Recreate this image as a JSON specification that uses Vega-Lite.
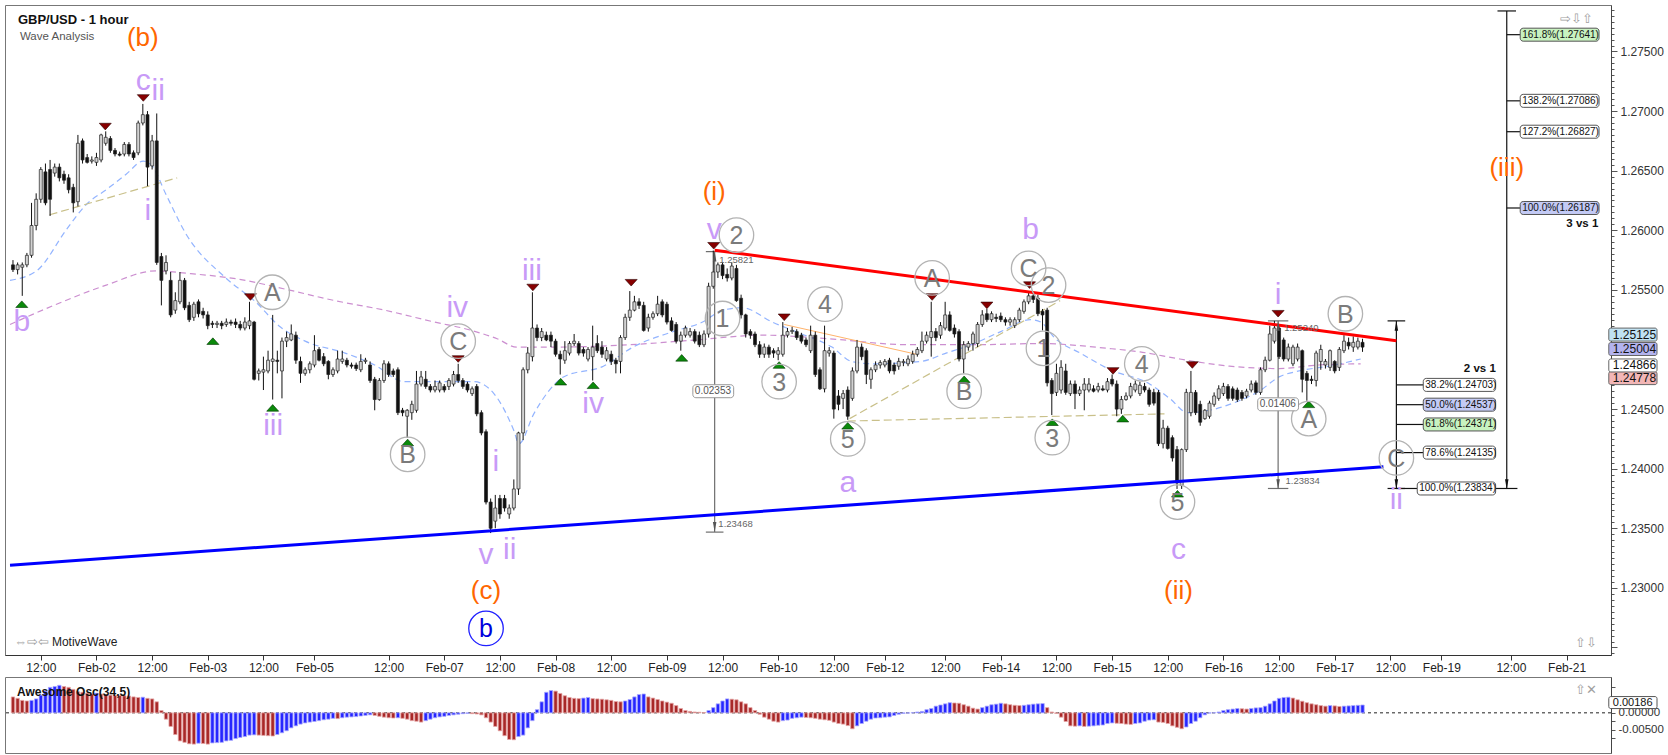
{
  "$schema": "https://vega.github.io/schema/vega-lite/v6.json",
  "background": "white",
  "padding": {"left": 3, "top": 3, "right": 2, "bottom": 3},
  "spacing": 2,
  "config": {
    "font": "Liberation Sans",
    "view": {"stroke": "#777", "strokeWidth": 1}
  },
  "datasets": {
    "candles": [
      {"i":0,"o":1.2571,"h":1.2575,"l":1.2565,"c":1.2567,"ao":0.00466},
      {"i":1,"o":1.2567,"h":1.2573,"l":1.2563,"c":1.2571,"ao":0.00424},
      {"i":2,"o":1.2569,"h":1.2573,"l":1.2545,"c":1.2571,"ao":0.00364},
      {"i":3,"o":1.2571,"h":1.2581,"l":1.2569,"c":1.2579,"ao":0.00347},
      {"i":4,"o":1.2579,"h":1.2623,"l":1.2577,"c":1.2604,"ao":0.00364},
      {"i":5,"o":1.2604,"h":1.2631,"l":1.2600,"c":1.2626,"ao":0.00407},
      {"i":6,"o":1.2626,"h":1.2653,"l":1.2623,"c":1.2651,"ao":0.00517},
      {"i":7,"o":1.2649,"h":1.2656,"l":1.2621,"c":1.2623,"ao":0.00635},
      {"i":8,"o":1.2651,"h":1.2659,"l":1.2612,"c":1.2626,"ao":0.00745},
      {"i":9,"o":1.2648,"h":1.2656,"l":1.2645,"c":1.2653,"ao":0.00771},
      {"i":10,"o":1.2653,"h":1.2656,"l":1.2641,"c":1.2644,"ao":0.00805},
      {"i":11,"o":1.2647,"h":1.2650,"l":1.2639,"c":1.2642,"ao":0.00771},
      {"i":12,"o":1.2644,"h":1.2647,"l":1.2631,"c":1.2634,"ao":0.00745},
      {"i":13,"o":1.2636,"h":1.2639,"l":1.2615,"c":1.2623,"ao":0.00686},
      {"i":14,"o":1.2624,"h":1.2680,"l":1.2620,"c":1.2673,"ao":0.00618},
      {"i":15,"o":1.2675,"h":1.2677,"l":1.2656,"c":1.2659,"ao":0.00601},
      {"i":16,"o":1.2661,"h":1.2664,"l":1.2656,"c":1.2657,"ao":0.00576},
      {"i":17,"o":1.2658,"h":1.2662,"l":1.2656,"c":1.2659,"ao":0.00551},
      {"i":18,"o":1.2657,"h":1.2665,"l":1.2654,"c":1.2661,"ao":0.00576},
      {"i":19,"o":1.2659,"h":1.2681,"l":1.2657,"c":1.2680,"ao":0.00551},
      {"i":20,"o":1.2673,"h":1.2683,"l":1.2671,"c":1.2678,"ao":0.00534},
      {"i":21,"o":1.2677,"h":1.2679,"l":1.2665,"c":1.2667,"ao":0.00517},
      {"i":22,"o":1.2667,"h":1.2669,"l":1.2662,"c":1.2664,"ao":0.00508},
      {"i":23,"o":1.2664,"h":1.2666,"l":1.2662,"c":1.2663,"ao":0.00505},
      {"i":24,"o":1.2664,"h":1.2674,"l":1.2662,"c":1.2672,"ao":0.00500},
      {"i":25,"o":1.2672,"h":1.2674,"l":1.2662,"c":1.2664,"ao":0.00491},
      {"i":26,"o":1.2665,"h":1.2667,"l":1.2659,"c":1.2661,"ao":0.00466},
      {"i":27,"o":1.2665,"h":1.2692,"l":1.2663,"c":1.2690,"ao":0.00449},
      {"i":28,"o":1.2690,"h":1.2706,"l":1.2688,"c":1.2697,"ao":0.00457},
      {"i":29,"o":1.2697,"h":1.2700,"l":1.2637,"c":1.2653,"ao":0.00424},
      {"i":30,"o":1.2654,"h":1.2680,"l":1.2651,"c":1.2675,"ao":0.00407},
      {"i":31,"o":1.2675,"h":1.2698,"l":1.2571,"c":1.2573,"ao":0.00322},
      {"i":32,"o":1.2578,"h":1.2581,"l":1.2537,"c":1.2558,"ao":0.00068},
      {"i":33,"o":1.2566,"h":1.2579,"l":1.2563,"c":1.2573,"ao":-0.00186},
      {"i":34,"o":1.2558,"h":1.2565,"l":1.2527,"c":1.2529,"ao":-0.00398},
      {"i":35,"o":1.2533,"h":1.2548,"l":1.2530,"c":1.2541,"ao":-0.00635},
      {"i":36,"o":1.2540,"h":1.2565,"l":1.2538,"c":1.2558,"ao":-0.00822},
      {"i":37,"o":1.2558,"h":1.2560,"l":1.2533,"c":1.2535,"ao":-0.00864},
      {"i":38,"o":1.2537,"h":1.2540,"l":1.2523,"c":1.2525,"ao":-0.00906},
      {"i":39,"o":1.2527,"h":1.2540,"l":1.2524,"c":1.2538,"ao":-0.00915},
      {"i":40,"o":1.2540,"h":1.2542,"l":1.2527,"c":1.2530,"ao":-0.00889},
      {"i":41,"o":1.2532,"h":1.2535,"l":1.2526,"c":1.2529,"ao":-0.00898},
      {"i":42,"o":1.2529,"h":1.2532,"l":1.2517,"c":1.2520,"ao":-0.00915},
      {"i":43,"o":1.2522,"h":1.2524,"l":1.2518,"c":1.2521,"ao":-0.00881},
      {"i":44,"o":1.2521,"h":1.2524,"l":1.2518,"c":1.2522,"ao":-0.00872},
      {"i":45,"o":1.2522,"h":1.2524,"l":1.2517,"c":1.2520,"ao":-0.00864},
      {"i":46,"o":1.2521,"h":1.2526,"l":1.2519,"c":1.2523,"ao":-0.00822},
      {"i":47,"o":1.2523,"h":1.2525,"l":1.2520,"c":1.2522,"ao":-0.00805},
      {"i":48,"o":1.2523,"h":1.2526,"l":1.2518,"c":1.2521,"ao":-0.00754},
      {"i":49,"o":1.2521,"h":1.2524,"l":1.2516,"c":1.2518,"ao":-0.00720},
      {"i":50,"o":1.2518,"h":1.2527,"l":1.2516,"c":1.2523,"ao":-0.00695},
      {"i":51,"o":1.2520,"h":1.2540,"l":1.2517,"c":1.2524,"ao":-0.00652},
      {"i":52,"o":1.2523,"h":1.2524,"l":1.2474,"c":1.2475,"ao":-0.00644},
      {"i":53,"o":1.2480,"h":1.2484,"l":1.2474,"c":1.2482,"ao":-0.00652},
      {"i":54,"o":1.2481,"h":1.2494,"l":1.2466,"c":1.2483,"ao":-0.00661},
      {"i":55,"o":1.2482,"h":1.2499,"l":1.2480,"c":1.2491,"ao":-0.00669},
      {"i":56,"o":1.2490,"h":1.2529,"l":1.2458,"c":1.2492,"ao":-0.00678},
      {"i":57,"o":1.2491,"h":1.2499,"l":1.2480,"c":1.2490,"ao":-0.00635},
      {"i":58,"o":1.2482,"h":1.2510,"l":1.2459,"c":1.2507,"ao":-0.00584},
      {"i":59,"o":1.2507,"h":1.2515,"l":1.2502,"c":1.2510,"ao":-0.00525},
      {"i":60,"o":1.2508,"h":1.2521,"l":1.2507,"c":1.2513,"ao":-0.00440},
      {"i":61,"o":1.2512,"h":1.2515,"l":1.2488,"c":1.2491,"ao":-0.00381},
      {"i":62,"o":1.2490,"h":1.2494,"l":1.2472,"c":1.2480,"ao":-0.00330},
      {"i":63,"o":1.2480,"h":1.2485,"l":1.2478,"c":1.2483,"ao":-0.00296},
      {"i":64,"o":1.2483,"h":1.2490,"l":1.2480,"c":1.2488,"ao":-0.00271},
      {"i":65,"o":1.2487,"h":1.2512,"l":1.2485,"c":1.2499,"ao":-0.00254},
      {"i":66,"o":1.2500,"h":1.2502,"l":1.2490,"c":1.2491,"ao":-0.00229},
      {"i":67,"o":1.2494,"h":1.2497,"l":1.2486,"c":1.2488,"ao":-0.00203},
      {"i":68,"o":1.2490,"h":1.2491,"l":1.2475,"c":1.2479,"ao":-0.00186},
      {"i":69,"o":1.2479,"h":1.2485,"l":1.2477,"c":1.2483,"ao":-0.00161},
      {"i":70,"o":1.2482,"h":1.2499,"l":1.2480,"c":1.2492,"ao":-0.00169},
      {"i":71,"o":1.2490,"h":1.2499,"l":1.2488,"c":1.2492,"ao":-0.00144},
      {"i":72,"o":1.2491,"h":1.2493,"l":1.2485,"c":1.2487,"ao":-0.00127},
      {"i":73,"o":1.2487,"h":1.2489,"l":1.2484,"c":1.2486,"ao":-0.00119},
      {"i":74,"o":1.2487,"h":1.2489,"l":1.2482,"c":1.2484,"ao":-0.00110},
      {"i":75,"o":1.2483,"h":1.2496,"l":1.2481,"c":1.2490,"ao":-0.00093},
      {"i":76,"o":1.2490,"h":1.2493,"l":1.2488,"c":1.2491,"ao":-0.00076},
      {"i":77,"o":1.2487,"h":1.2490,"l":1.2472,"c":1.2474,"ao":-0.00059},
      {"i":78,"o":1.2475,"h":1.2477,"l":1.2449,"c":1.2458,"ao":-0.00076},
      {"i":79,"o":1.2458,"h":1.2476,"l":1.2457,"c":1.2474,"ao":-0.00102},
      {"i":80,"o":1.2474,"h":1.2491,"l":1.2472,"c":1.2488,"ao":-0.00127},
      {"i":81,"o":1.2488,"h":1.2490,"l":1.2477,"c":1.2479,"ao":-0.00144},
      {"i":82,"o":1.2482,"h":1.2484,"l":1.2477,"c":1.2479,"ao":-0.00152},
      {"i":83,"o":1.2483,"h":1.2485,"l":1.2445,"c":1.2447,"ao":-0.00144},
      {"i":84,"o":1.2449,"h":1.2451,"l":1.2444,"c":1.2447,"ao":-0.00161},
      {"i":85,"o":1.2444,"h":1.2450,"l":1.2426,"c":1.2449,"ao":-0.00186},
      {"i":86,"o":1.2447,"h":1.2457,"l":1.2441,"c":1.2454,"ao":-0.00229},
      {"i":87,"o":1.2449,"h":1.2482,"l":1.2447,"c":1.2471,"ao":-0.00246},
      {"i":88,"o":1.2471,"h":1.2482,"l":1.2469,"c":1.2477,"ao":-0.00271},
      {"i":89,"o":1.2475,"h":1.2482,"l":1.2467,"c":1.2469,"ao":-0.00229},
      {"i":90,"o":1.2469,"h":1.2471,"l":1.2464,"c":1.2466,"ao":-0.00186},
      {"i":91,"o":1.2466,"h":1.2474,"l":1.2464,"c":1.2469,"ao":-0.00144},
      {"i":92,"o":1.2466,"h":1.2474,"l":1.2464,"c":1.2472,"ao":-0.00119},
      {"i":93,"o":1.2469,"h":1.2471,"l":1.2464,"c":1.2466,"ao":-0.00102},
      {"i":94,"o":1.2469,"h":1.2476,"l":1.2466,"c":1.2474,"ao":-0.00076},
      {"i":95,"o":1.2471,"h":1.2482,"l":1.2469,"c":1.2479,"ao":-0.00059},
      {"i":96,"o":1.2479,"h":1.2488,"l":1.2472,"c":1.2474,"ao":-0.00042},
      {"i":97,"o":1.2474,"h":1.2476,"l":1.2467,"c":1.2469,"ao":-0.00025},
      {"i":98,"o":1.2471,"h":1.2473,"l":1.2464,"c":1.2466,"ao":-0.00017},
      {"i":99,"o":1.2463,"h":1.2469,"l":1.2461,"c":1.2467,"ao":-0.00025},
      {"i":100,"o":1.2469,"h":1.2471,"l":1.2444,"c":1.2446,"ao":-0.00034},
      {"i":101,"o":1.2447,"h":1.2449,"l":1.2428,"c":1.2430,"ao":-0.00059},
      {"i":102,"o":1.2431,"h":1.2433,"l":1.2370,"c":1.2372,"ao":-0.00144},
      {"i":103,"o":1.2372,"h":1.2375,"l":1.2346,"c":1.2350,"ao":-0.00271},
      {"i":104,"o":1.2356,"h":1.2378,"l":1.2350,"c":1.2367,"ao":-0.00398},
      {"i":105,"o":1.2375,"h":1.2378,"l":1.2358,"c":1.2362,"ao":-0.00525},
      {"i":106,"o":1.2375,"h":1.2378,"l":1.2364,"c":1.2367,"ao":-0.00669},
      {"i":107,"o":1.2362,"h":1.2370,"l":1.2358,"c":1.2367,"ao":-0.00779},
      {"i":108,"o":1.2367,"h":1.2391,"l":1.2365,"c":1.2383,"ao":-0.00788},
      {"i":109,"o":1.2383,"h":1.2431,"l":1.2378,"c":1.2430,"ao":-0.00695},
      {"i":110,"o":1.2430,"h":1.2485,"l":1.2424,"c":1.2483,"ao":-0.00652},
      {"i":111,"o":1.2483,"h":1.2502,"l":1.2480,"c":1.2497,"ao":-0.00440},
      {"i":112,"o":1.2494,"h":1.2548,"l":1.2490,"c":1.2518,"ao":-0.00229},
      {"i":113,"o":1.2518,"h":1.2521,"l":1.2507,"c":1.2510,"ao":0.00093},
      {"i":114,"o":1.2510,"h":1.2518,"l":1.2507,"c":1.2515,"ao":0.00322},
      {"i":115,"o":1.2512,"h":1.2515,"l":1.2507,"c":1.2508,"ao":0.00601},
      {"i":116,"o":1.2512,"h":1.2515,"l":1.2502,"c":1.2507,"ao":0.00652},
      {"i":117,"o":1.2507,"h":1.2509,"l":1.2494,"c":1.2496,"ao":0.00635},
      {"i":118,"o":1.2496,"h":1.2499,"l":1.2479,"c":1.2492,"ao":0.00567},
      {"i":119,"o":1.2491,"h":1.2507,"l":1.2488,"c":1.2499,"ao":0.00500},
      {"i":120,"o":1.2497,"h":1.2507,"l":1.2495,"c":1.2505,"ao":0.00449},
      {"i":121,"o":1.2505,"h":1.2513,"l":1.2503,"c":1.2507,"ao":0.00424},
      {"i":122,"o":1.2505,"h":1.2507,"l":1.2495,"c":1.2497,"ao":0.00415},
      {"i":123,"o":1.2500,"h":1.2502,"l":1.2494,"c":1.2497,"ao":0.00432},
      {"i":124,"o":1.2492,"h":1.2502,"l":1.2490,"c":1.2500,"ao":0.00449},
      {"i":125,"o":1.2494,"h":1.2520,"l":1.2474,"c":1.2502,"ao":0.00415},
      {"i":126,"o":1.2505,"h":1.2512,"l":1.2497,"c":1.2499,"ao":0.00407},
      {"i":127,"o":1.2502,"h":1.2507,"l":1.2493,"c":1.2496,"ao":0.00398},
      {"i":128,"o":1.2492,"h":1.2502,"l":1.2490,"c":1.2499,"ao":0.00381},
      {"i":129,"o":1.2496,"h":1.2499,"l":1.2487,"c":1.2490,"ao":0.00364},
      {"i":130,"o":1.2491,"h":1.2493,"l":1.2480,"c":1.2488,"ao":0.00330},
      {"i":131,"o":1.2490,"h":1.2512,"l":1.2480,"c":1.2510,"ao":0.00322},
      {"i":132,"o":1.2510,"h":1.2530,"l":1.2508,"c":1.2527,"ao":0.00347},
      {"i":133,"o":1.2527,"h":1.2549,"l":1.2524,"c":1.2533,"ao":0.00390},
      {"i":134,"o":1.2533,"h":1.2545,"l":1.2532,"c":1.2540,"ao":0.00466},
      {"i":135,"o":1.2540,"h":1.2543,"l":1.2534,"c":1.2537,"ao":0.00534},
      {"i":136,"o":1.2537,"h":1.2540,"l":1.2515,"c":1.2516,"ao":0.00551},
      {"i":137,"o":1.2518,"h":1.2530,"l":1.2515,"c":1.2527,"ao":0.00466},
      {"i":138,"o":1.2527,"h":1.2532,"l":1.2525,"c":1.2530,"ao":0.00432},
      {"i":139,"o":1.2530,"h":1.2545,"l":1.2528,"c":1.2538,"ao":0.00390},
      {"i":140,"o":1.2540,"h":1.2542,"l":1.2527,"c":1.2529,"ao":0.00347},
      {"i":141,"o":1.2538,"h":1.2540,"l":1.2521,"c":1.2523,"ao":0.00313},
      {"i":142,"o":1.2524,"h":1.2527,"l":1.2515,"c":1.2516,"ao":0.00280},
      {"i":143,"o":1.2521,"h":1.2523,"l":1.2505,"c":1.2507,"ao":0.00212},
      {"i":144,"o":1.2507,"h":1.2515,"l":1.2499,"c":1.2512,"ao":0.00127},
      {"i":145,"o":1.2512,"h":1.2520,"l":1.2510,"c":1.2518,"ao":0.00068},
      {"i":146,"o":1.2512,"h":1.2518,"l":1.2510,"c":1.2515,"ao":0.00042},
      {"i":147,"o":1.2515,"h":1.2517,"l":1.2505,"c":1.2507,"ao":0.00025},
      {"i":148,"o":1.2512,"h":1.2515,"l":1.2502,"c":1.2504,"ao":0.00017},
      {"i":149,"o":1.2504,"h":1.2516,"l":1.2502,"c":1.2513,"ao":0.00008},
      {"i":150,"o":1.2513,"h":1.2556,"l":1.2510,"c":1.2553,"ao":0.00068},
      {"i":151,"o":1.2553,"h":1.2583,"l":1.2551,"c":1.2565,"ao":0.00152},
      {"i":152,"o":1.2565,"h":1.2573,"l":1.2560,"c":1.2571,"ao":0.00263},
      {"i":153,"o":1.2571,"h":1.2573,"l":1.2559,"c":1.2562,"ao":0.00347},
      {"i":154,"o":1.2563,"h":1.2568,"l":1.2557,"c":1.2560,"ao":0.00407},
      {"i":155,"o":1.2560,"h":1.2573,"l":1.2558,"c":1.2570,"ao":0.00398},
      {"i":156,"o":1.2568,"h":1.2571,"l":1.2540,"c":1.2541,"ao":0.00381},
      {"i":157,"o":1.2543,"h":1.2546,"l":1.2526,"c":1.2529,"ao":0.00322},
      {"i":158,"o":1.2529,"h":1.2530,"l":1.2510,"c":1.2513,"ao":0.00263},
      {"i":159,"o":1.2515,"h":1.2517,"l":1.2509,"c":1.2512,"ao":0.00152},
      {"i":160,"o":1.2513,"h":1.2515,"l":1.2502,"c":1.2504,"ao":0.00068},
      {"i":161,"o":1.2504,"h":1.2507,"l":1.2493,"c":1.2496,"ao":-0.00042},
      {"i":162,"o":1.2496,"h":1.2505,"l":1.2493,"c":1.2502,"ao":-0.00127},
      {"i":163,"o":1.2502,"h":1.2504,"l":1.2493,"c":1.2496,"ao":-0.00186},
      {"i":164,"o":1.2499,"h":1.2501,"l":1.2493,"c":1.2497,"ao":-0.00246},
      {"i":165,"o":1.2496,"h":1.2502,"l":1.2491,"c":1.2499,"ao":-0.00271},
      {"i":166,"o":1.2496,"h":1.2523,"l":1.2494,"c":1.2512,"ao":-0.00229},
      {"i":167,"o":1.2512,"h":1.2518,"l":1.2510,"c":1.2515,"ao":-0.00212},
      {"i":168,"o":1.2515,"h":1.2519,"l":1.2513,"c":1.2516,"ao":-0.00161},
      {"i":169,"o":1.2515,"h":1.2517,"l":1.2508,"c":1.2510,"ao":-0.00144},
      {"i":170,"o":1.2512,"h":1.2514,"l":1.2505,"c":1.2507,"ao":-0.00127},
      {"i":171,"o":1.2508,"h":1.2510,"l":1.2502,"c":1.2504,"ao":-0.00136},
      {"i":172,"o":1.2499,"h":1.2520,"l":1.2497,"c":1.2512,"ao":-0.00144},
      {"i":173,"o":1.2512,"h":1.2515,"l":1.2477,"c":1.2479,"ao":-0.00161},
      {"i":174,"o":1.2483,"h":1.2485,"l":1.2466,"c":1.2467,"ao":-0.00186},
      {"i":175,"o":1.2467,"h":1.2520,"l":1.2464,"c":1.2499,"ao":-0.00203},
      {"i":176,"o":1.2497,"h":1.2502,"l":1.2494,"c":1.2499,"ao":-0.00220},
      {"i":177,"o":1.2497,"h":1.2499,"l":1.2442,"c":1.2450,"ao":-0.00271},
      {"i":178,"o":1.2461,"h":1.2466,"l":1.2449,"c":1.2454,"ao":-0.00313},
      {"i":179,"o":1.2459,"h":1.2466,"l":1.2450,"c":1.2463,"ao":-0.00330},
      {"i":180,"o":1.2466,"h":1.2469,"l":1.2441,"c":1.2444,"ao":-0.00373},
      {"i":181,"o":1.2459,"h":1.2485,"l":1.2457,"c":1.2482,"ao":-0.00466},
      {"i":182,"o":1.2482,"h":1.2508,"l":1.2480,"c":1.2502,"ao":-0.00381},
      {"i":183,"o":1.2502,"h":1.2505,"l":1.2491,"c":1.2494,"ao":-0.00313},
      {"i":184,"o":1.2499,"h":1.2501,"l":1.2471,"c":1.2479,"ao":-0.00246},
      {"i":185,"o":1.2475,"h":1.2485,"l":1.2467,"c":1.2483,"ao":-0.00186},
      {"i":186,"o":1.2483,"h":1.2490,"l":1.2481,"c":1.2487,"ao":-0.00152},
      {"i":187,"o":1.2487,"h":1.2491,"l":1.2484,"c":1.2489,"ao":-0.00144},
      {"i":188,"o":1.2487,"h":1.2492,"l":1.2485,"c":1.2490,"ao":-0.00127},
      {"i":189,"o":1.2491,"h":1.2493,"l":1.2480,"c":1.2482,"ao":-0.00119},
      {"i":190,"o":1.2487,"h":1.2489,"l":1.2479,"c":1.2482,"ao":-0.00076},
      {"i":191,"o":1.2486,"h":1.2493,"l":1.2483,"c":1.2490,"ao":-0.00042},
      {"i":192,"o":1.2489,"h":1.2492,"l":1.2486,"c":1.2490,"ao":-0.00017},
      {"i":193,"o":1.2488,"h":1.2495,"l":1.2486,"c":1.2492,"ao":-0.00008},
      {"i":194,"o":1.2490,"h":1.2499,"l":1.2488,"c":1.2496,"ao":0.00003},
      {"i":195,"o":1.2496,"h":1.2502,"l":1.2494,"c":1.2500,"ao":0.00025},
      {"i":196,"o":1.2499,"h":1.2515,"l":1.2497,"c":1.2507,"ao":0.00042},
      {"i":197,"o":1.2507,"h":1.2515,"l":1.2505,"c":1.2512,"ao":0.00093},
      {"i":198,"o":1.2510,"h":1.2540,"l":1.2494,"c":1.2515,"ao":0.00127},
      {"i":199,"o":1.2515,"h":1.2518,"l":1.2507,"c":1.2510,"ao":0.00195},
      {"i":200,"o":1.2512,"h":1.2523,"l":1.2509,"c":1.2520,"ao":0.00229},
      {"i":201,"o":1.2518,"h":1.2540,"l":1.2516,"c":1.2529,"ao":0.00263},
      {"i":202,"o":1.2529,"h":1.2532,"l":1.2515,"c":1.2516,"ao":0.00296},
      {"i":203,"o":1.2518,"h":1.2521,"l":1.2510,"c":1.2513,"ao":0.00288},
      {"i":204,"o":1.2515,"h":1.2517,"l":1.2490,"c":1.2492,"ao":0.00280},
      {"i":205,"o":1.2492,"h":1.2507,"l":1.2480,"c":1.2504,"ao":0.00237},
      {"i":206,"o":1.2502,"h":1.2507,"l":1.2499,"c":1.2505,"ao":0.00195},
      {"i":207,"o":1.2505,"h":1.2515,"l":1.2499,"c":1.2513,"ao":0.00136},
      {"i":208,"o":1.2505,"h":1.2523,"l":1.2502,"c":1.2521,"ao":0.00110},
      {"i":209,"o":1.2521,"h":1.2533,"l":1.2519,"c":1.2529,"ao":0.00152},
      {"i":210,"o":1.2530,"h":1.2534,"l":1.2523,"c":1.2525,"ao":0.00195},
      {"i":211,"o":1.2525,"h":1.2532,"l":1.2523,"c":1.2530,"ao":0.00237},
      {"i":212,"o":1.2527,"h":1.2530,"l":1.2523,"c":1.2526,"ao":0.00254},
      {"i":213,"o":1.2528,"h":1.2531,"l":1.2523,"c":1.2525,"ao":0.00280},
      {"i":214,"o":1.2525,"h":1.2527,"l":1.2520,"c":1.2523,"ao":0.00263},
      {"i":215,"o":1.2523,"h":1.2527,"l":1.2520,"c":1.2525,"ao":0.00237},
      {"i":216,"o":1.2520,"h":1.2527,"l":1.2518,"c":1.2525,"ao":0.00220},
      {"i":217,"o":1.2525,"h":1.2535,"l":1.2523,"c":1.2533,"ao":0.00212},
      {"i":218,"o":1.2532,"h":1.2542,"l":1.2530,"c":1.2540,"ao":0.00220},
      {"i":219,"o":1.2540,"h":1.2548,"l":1.2538,"c":1.2545,"ao":0.00237},
      {"i":220,"o":1.2545,"h":1.2548,"l":1.2539,"c":1.2542,"ao":0.00254},
      {"i":221,"o":1.2543,"h":1.2546,"l":1.2528,"c":1.2530,"ao":0.00263},
      {"i":222,"o":1.2532,"h":1.2534,"l":1.2516,"c":1.2529,"ao":0.00271},
      {"i":223,"o":1.2533,"h":1.2535,"l":1.2469,"c":1.2472,"ao":0.00152},
      {"i":224,"o":1.2474,"h":1.2476,"l":1.2445,"c":1.2463,"ao":0.00025},
      {"i":225,"o":1.2464,"h":1.2488,"l":1.2461,"c":1.2480,"ao":-0.00017},
      {"i":226,"o":1.2466,"h":1.2491,"l":1.2463,"c":1.2485,"ao":-0.00127},
      {"i":227,"o":1.2482,"h":1.2488,"l":1.2462,"c":1.2464,"ao":-0.00254},
      {"i":228,"o":1.2463,"h":1.2474,"l":1.2461,"c":1.2471,"ao":-0.00381},
      {"i":229,"o":1.2471,"h":1.2474,"l":1.2450,"c":1.2463,"ao":-0.00390},
      {"i":230,"o":1.2463,"h":1.2469,"l":1.2461,"c":1.2466,"ao":-0.00381},
      {"i":231,"o":1.2466,"h":1.2476,"l":1.2449,"c":1.2471,"ao":-0.00398},
      {"i":232,"o":1.2466,"h":1.2476,"l":1.2464,"c":1.2471,"ao":-0.00390},
      {"i":233,"o":1.2467,"h":1.2470,"l":1.2464,"c":1.2465,"ao":-0.00381},
      {"i":234,"o":1.2466,"h":1.2472,"l":1.2464,"c":1.2469,"ao":-0.00364},
      {"i":235,"o":1.2467,"h":1.2470,"l":1.2465,"c":1.2466,"ao":-0.00356},
      {"i":236,"o":1.2466,"h":1.2476,"l":1.2464,"c":1.2473,"ao":-0.00313},
      {"i":237,"o":1.2475,"h":1.2479,"l":1.2469,"c":1.2471,"ao":-0.00296},
      {"i":238,"o":1.2471,"h":1.2474,"l":1.2444,"c":1.2450,"ao":-0.00305},
      {"i":239,"o":1.2450,"h":1.2461,"l":1.2446,"c":1.2458,"ao":-0.00313},
      {"i":240,"o":1.2458,"h":1.2464,"l":1.2457,"c":1.2461,"ao":-0.00330},
      {"i":241,"o":1.2461,"h":1.2472,"l":1.2459,"c":1.2469,"ao":-0.00339},
      {"i":242,"o":1.2466,"h":1.2474,"l":1.2464,"c":1.2471,"ao":-0.00313},
      {"i":243,"o":1.2463,"h":1.2473,"l":1.2461,"c":1.2470,"ao":-0.00296},
      {"i":244,"o":1.2469,"h":1.2472,"l":1.2464,"c":1.2466,"ao":-0.00246},
      {"i":245,"o":1.2466,"h":1.2468,"l":1.2452,"c":1.2454,"ao":-0.00212},
      {"i":246,"o":1.2464,"h":1.2467,"l":1.2453,"c":1.2455,"ao":-0.00203},
      {"i":247,"o":1.2464,"h":1.2466,"l":1.2419,"c":1.2421,"ao":-0.00271},
      {"i":248,"o":1.2421,"h":1.2441,"l":1.2417,"c":1.2434,"ao":-0.00280},
      {"i":249,"o":1.2434,"h":1.2436,"l":1.2416,"c":1.2417,"ao":-0.00313},
      {"i":250,"o":1.2426,"h":1.2428,"l":1.2406,"c":1.2409,"ao":-0.00381},
      {"i":251,"o":1.2416,"h":1.2419,"l":1.2383,"c":1.2388,"ao":-0.00424},
      {"i":252,"o":1.2386,"h":1.2417,"l":1.2383,"c":1.2416,"ao":-0.00466},
      {"i":253,"o":1.2416,"h":1.2467,"l":1.2414,"c":1.2464,"ao":-0.00415},
      {"i":254,"o":1.2447,"h":1.2482,"l":1.2444,"c":1.2464,"ao":-0.00313},
      {"i":255,"o":1.2464,"h":1.2466,"l":1.2445,"c":1.2447,"ao":-0.00246},
      {"i":256,"o":1.2454,"h":1.2457,"l":1.2436,"c":1.2439,"ao":-0.00144},
      {"i":257,"o":1.2442,"h":1.2450,"l":1.2441,"c":1.2449,"ao":-0.00059},
      {"i":258,"o":1.2444,"h":1.2457,"l":1.2442,"c":1.2455,"ao":-0.00008},
      {"i":259,"o":1.2454,"h":1.2464,"l":1.2452,"c":1.2461,"ao":0.00003},
      {"i":260,"o":1.2459,"h":1.2470,"l":1.2457,"c":1.2467,"ao":0.00025},
      {"i":261,"o":1.2463,"h":1.2472,"l":1.2461,"c":1.2469,"ao":0.00068},
      {"i":262,"o":1.2469,"h":1.2471,"l":1.2457,"c":1.2459,"ao":0.00093},
      {"i":263,"o":1.2467,"h":1.2469,"l":1.2457,"c":1.2459,"ao":0.00110},
      {"i":264,"o":1.2466,"h":1.2468,"l":1.2456,"c":1.2458,"ao":0.00127},
      {"i":265,"o":1.2464,"h":1.2466,"l":1.2457,"c":1.2459,"ao":0.00119},
      {"i":266,"o":1.2461,"h":1.2467,"l":1.2459,"c":1.2465,"ao":0.00110},
      {"i":267,"o":1.2466,"h":1.2474,"l":1.2464,"c":1.2471,"ao":0.00127},
      {"i":268,"o":1.2472,"h":1.2474,"l":1.2462,"c":1.2464,"ao":0.00144},
      {"i":269,"o":1.2464,"h":1.2485,"l":1.2462,"c":1.2483,"ao":0.00152},
      {"i":270,"o":1.2483,"h":1.2494,"l":1.2481,"c":1.2491,"ao":0.00195},
      {"i":271,"o":1.2491,"h":1.2520,"l":1.2490,"c":1.2513,"ao":0.00263},
      {"i":272,"o":1.2507,"h":1.2524,"l":1.2505,"c":1.2518,"ao":0.00347},
      {"i":273,"o":1.2518,"h":1.2521,"l":1.2492,"c":1.2494,"ao":0.00424},
      {"i":274,"o":1.2508,"h":1.2510,"l":1.2490,"c":1.2492,"ao":0.00449},
      {"i":275,"o":1.2492,"h":1.2505,"l":1.2490,"c":1.2502,"ao":0.00457},
      {"i":276,"o":1.2488,"h":1.2504,"l":1.2486,"c":1.2502,"ao":0.00432},
      {"i":277,"o":1.2492,"h":1.2505,"l":1.2490,"c":1.2502,"ao":0.00381},
      {"i":278,"o":1.2499,"h":1.2500,"l":1.2464,"c":1.2475,"ao":0.00339},
      {"i":279,"o":1.2480,"h":1.2482,"l":1.2457,"c":1.2474,"ao":0.00296},
      {"i":280,"o":1.2475,"h":1.2478,"l":1.2471,"c":1.2474,"ao":0.00263},
      {"i":281,"o":1.2474,"h":1.2499,"l":1.2469,"c":1.2497,"ao":0.00237},
      {"i":282,"o":1.2490,"h":1.2504,"l":1.2483,"c":1.2500,"ao":0.00212},
      {"i":283,"o":1.2487,"h":1.2492,"l":1.2484,"c":1.2490,"ao":0.00195},
      {"i":284,"o":1.2485,"h":1.2500,"l":1.2482,"c":1.2499,"ao":0.00212},
      {"i":285,"o":1.2490,"h":1.2491,"l":1.2480,"c":1.2482,"ao":0.00203},
      {"i":286,"o":1.2485,"h":1.2502,"l":1.2482,"c":1.2500,"ao":0.00186},
      {"i":287,"o":1.2499,"h":1.2512,"l":1.2497,"c":1.2507,"ao":0.00195},
      {"i":288,"o":1.2506,"h":1.2510,"l":1.2500,"c":1.2503,"ao":0.00203},
      {"i":289,"o":1.2502,"h":1.2511,"l":1.2498,"c":1.2506,"ao":0.00212},
      {"i":290,"o":1.2502,"h":1.2510,"l":1.2500,"c":1.2507,"ao":0.00220},
      {"i":291,"o":1.2506,"h":1.2509,"l":1.2498,"c":1.2502,"ao":0.00229}
    ],
    "lines": [
      {"s":"red","i":151.3,"p":1.25833},{"s":"red","i":298.3,"p":1.25073},
      {"s":"blue","i":-0.64,"p":1.2319},{"s":"blue","i":295.5,"p":1.24016},
      {"s":"k1","i":7.9,"p":1.2613},{"s":"k1","i":35.4,"p":1.2644},
      {"s":"k2","i":180.4,"p":1.2442},{"s":"k2","i":225.8,"p":1.2541},
      {"s":"k3","i":180.0,"p":1.2440},{"s":"k3","i":248.3,"p":1.2446},
      {"s":"orange","i":166.3,"p":1.2521},{"s":"orange","i":194.8,"p":1.2496},
      {"s":"pink","i":-0.64,"p":1.2521},{"s":"pink","i":9.4,"p":1.2538},{"s":"pink","i":20.1,"p":1.2554},
      {"s":"pink","i":30.9,"p":1.2566},{"s":"pink","i":37.3,"p":1.2564},{"s":"pink","i":48.6,"p":1.2559},
      {"s":"pink","i":59.4,"p":1.2550},{"s":"pink","i":69.4,"p":1.2541},{"s":"pink","i":80.1,"p":1.2533},
      {"s":"pink","i":90.9,"p":1.2523},{"s":"pink","i":97.9,"p":1.2517},{"s":"pink","i":104.4,"p":1.2509},
      {"s":"pink","i":108.6,"p":1.2502},{"s":"pink","i":115.9,"p":1.2502},{"s":"pink","i":133.1,"p":1.2504},
      {"s":"pink","i":147.2,"p":1.2508},{"s":"pink","i":161.6,"p":1.2512},{"s":"pink","i":175.9,"p":1.2509},
      {"s":"pink","i":193.1,"p":1.2504},{"s":"pink","i":207.2,"p":1.2504},{"s":"pink","i":221.6,"p":1.2505},
      {"s":"pink","i":235.9,"p":1.2501},{"s":"pink","i":243.0,"p":1.2498},{"s":"pink","i":251.6,"p":1.2492},
      {"s":"pink","i":262.3,"p":1.2486},{"s":"pink","i":273.0,"p":1.2484},{"s":"pink","i":281.5,"p":1.2487},
      {"s":"pink","i":290.6,"p":1.2488},
      {"s":"lblue","i":-0.64,"p":1.2558},{"s":"lblue","i":5.1,"p":1.2566},{"s":"lblue","i":11.6,"p":1.2601},
      {"s":"lblue","i":15.9,"p":1.2622},{"s":"lblue","i":20.1,"p":1.2634},{"s":"lblue","i":24.4,"p":1.2647},
      {"s":"lblue","i":28.1,"p":1.2658},{"s":"lblue","i":29.8,"p":1.2655},{"s":"lblue","i":33.0,"p":1.2630},
      {"s":"lblue","i":37.3,"p":1.2597},{"s":"lblue","i":45.9,"p":1.2560},{"s":"lblue","i":52.3,"p":1.2540},
      {"s":"lblue","i":57.6,"p":1.2519},{"s":"lblue","i":63.0,"p":1.2507},{"s":"lblue","i":71.6,"p":1.2497},
      {"s":"lblue","i":78.0,"p":1.2487},{"s":"lblue","i":84.4,"p":1.2473},{"s":"lblue","i":90.9,"p":1.2473},
      {"s":"lblue","i":99.4,"p":1.2473},{"s":"lblue","i":103.7,"p":1.2463},{"s":"lblue","i":108.0,"p":1.2432},
      {"s":"lblue","i":109.1,"p":1.2421},{"s":"lblue","i":112.3,"p":1.2446},{"s":"lblue","i":115.5,"p":1.2465},
      {"s":"lblue","i":118.7,"p":1.2477},{"s":"lblue","i":127.3,"p":1.2486},{"s":"lblue","i":133.7,"p":1.2502},
      {"s":"lblue","i":142.3,"p":1.2515},{"s":"lblue","i":148.7,"p":1.2523},{"s":"lblue","i":153.0,"p":1.2533},
      {"s":"lblue","i":157.3,"p":1.2535},{"s":"lblue","i":163.7,"p":1.2523},{"s":"lblue","i":170.1,"p":1.2513},
      {"s":"lblue","i":176.6,"p":1.2502},{"s":"lblue","i":180.8,"p":1.2490},{"s":"lblue","i":185.1,"p":1.2488},
      {"s":"lblue","i":195.8,"p":1.2490},{"s":"lblue","i":201.2,"p":1.2497},{"s":"lblue","i":206.6,"p":1.2504},
      {"s":"lblue","i":213.0,"p":1.2515},{"s":"lblue","i":219.4,"p":1.2525},{"s":"lblue","i":221.6,"p":1.2523},
      {"s":"lblue","i":224.8,"p":1.2509},{"s":"lblue","i":230.1,"p":1.2497},{"s":"lblue","i":236.6,"p":1.2483},
      {"s":"lblue","i":245.1,"p":1.2471},{"s":"lblue","i":249.4,"p":1.2459},{"s":"lblue","i":253.3,"p":1.2447},
      {"s":"lblue","i":258.0,"p":1.2449},{"s":"lblue","i":264.4,"p":1.2457},{"s":"lblue","i":268.7,"p":1.2465},
      {"s":"lblue","i":273.0,"p":1.2477},{"s":"lblue","i":277.3,"p":1.2482},{"s":"lblue","i":283.7,"p":1.2486},
      {"s":"lblue","i":290.6,"p":1.2492}
    ],
    "rules": [
      {"g":"meas","i":151.3,"i2":151.3,"p":1.23468,"p2":1.25821},
      {"g":"meas","i":149.4,"i2":153.2,"p":1.25821,"p2":1.25821},
      {"g":"meas","i":149.4,"i2":153.2,"p":1.23468,"p2":1.23468},
      {"g":"meas","i":272.8,"i2":272.8,"p":1.23834,"p2":1.2524},
      {"g":"meas","i":270.6,"i2":275.0,"p":1.2524,"p2":1.2524},
      {"g":"meas","i":270.6,"i2":275.0,"p":1.23834,"p2":1.23834},
      {"g":"fib","i":322.1,"i2":322.1,"p":1.23834,"p2":1.2784},
      {"g":"fib","i":320.1,"i2":324.1,"p":1.2784,"p2":1.2784},
      {"g":"fib","i":322.1,"i2":325.0,"p":1.27641,"p2":1.27641},
      {"g":"fib","i":322.1,"i2":325.0,"p":1.27086,"p2":1.27086},
      {"g":"fib","i":322.1,"i2":325.0,"p":1.26827,"p2":1.26827},
      {"g":"fib","i":322.1,"i2":325.0,"p":1.26187,"p2":1.26187},
      {"g":"fib","i":319.7,"i2":324.4,"p":1.23834,"p2":1.23834},
      {"g":"fib","i":298.3,"i2":298.3,"p":1.23834,"p2":1.2524},
      {"g":"fib","i":296.4,"i2":300.2,"p":1.2524,"p2":1.2524},
      {"g":"fib","i":296.4,"i2":300.2,"p":1.23834,"p2":1.23834},
      {"g":"fib","i":298.3,"i2":304.1,"p":1.24703,"p2":1.24703},
      {"g":"fib","i":298.3,"i2":304.1,"p":1.24537,"p2":1.24537},
      {"g":"fib","i":298.3,"i2":304.1,"p":1.24371,"p2":1.24371},
      {"g":"fib","i":298.3,"i2":304.1,"p":1.24135,"p2":1.24135},
      {"g":"fib","i":298.3,"i2":302.8,"p":1.23834,"p2":1.23834}
    ],
    "arrows": [
      {"g":"meas","d":"up","i":151.3,"p":1.2578},
      {"g":"meas","d":"down","i":151.3,"p":1.2351},
      {"g":"meas","d":"up","i":272.8,"p":1.2520},
      {"g":"meas","d":"down","i":272.8,"p":1.2387},
      {"g":"fib","d":"down","i":322.1,"p":1.2387},
      {"g":"fib","d":"up","i":298.3,"p":1.2520},
      {"g":"fib","d":"down","i":298.3,"p":1.2387}
    ],
    "marks": [
      {"d":"down","i":28.1,"p":1.2711},{"d":"down","i":19.9,"p":1.2687},{"d":"down","i":51.2,"p":1.2544},
      {"d":"down","i":96.0,"p":1.2492},{"d":"down","i":112.1,"p":1.2552},{"d":"down","i":133.3,"p":1.2556},
      {"d":"down","i":151.1,"p":1.2587},{"d":"down","i":166.3,"p":1.2527},{"d":"down","i":198.2,"p":1.2544},
      {"d":"down","i":210.0,"p":1.2537},{"d":"down","i":219.2,"p":1.2554},{"d":"down","i":237.2,"p":1.2482},
      {"d":"down","i":254.3,"p":1.2487},{"d":"down","i":272.8,"p":1.2530},
      {"d":"up","i":1.9,"p":1.2538},{"d":"up","i":43.1,"p":1.2507},{"d":"up","i":56.0,"p":1.2451},
      {"d":"up","i":85.1,"p":1.2422},{"d":"up","i":118.1,"p":1.2473},{"d":"up","i":125.1,"p":1.2470},
      {"d":"up","i":144.2,"p":1.2493},{"d":"up","i":165.2,"p":1.2487},{"d":"up","i":180.0,"p":1.2436},
      {"d":"up","i":205.1,"p":1.2475},{"d":"up","i":224.1,"p":1.2439},{"d":"up","i":239.3,"p":1.2442},
      {"d":"up","i":251.1,"p":1.2379},{"d":"up","i":279.4,"p":1.2454}
    ],
    "circles": [
      {"k":"g","t":"A","i":55.9,"p":1.2548},{"k":"g","t":"B","i":85.1,"p":1.2412},{"k":"g","t":"C","i":96.0,"p":1.2507},
      {"k":"g","t":"2","i":156.0,"p":1.2596},{"k":"g","t":"1","i":153.0,"p":1.2526},{"k":"g","t":"3","i":165.2,"p":1.2473},
      {"k":"g","t":"4","i":175.1,"p":1.2538},{"k":"g","t":"5","i":180.0,"p":1.2425},{"k":"g","t":"A","i":198.2,"p":1.2560},
      {"k":"g","t":"B","i":205.1,"p":1.2465},{"k":"g","t":"C","i":219.0,"p":1.2568},{"k":"g","t":"2","i":223.3,"p":1.2554},
      {"k":"g","t":"1","i":222.2,"p":1.2501},{"k":"g","t":"3","i":224.1,"p":1.2426},{"k":"g","t":"4","i":243.4,"p":1.2488},
      {"k":"g","t":"5","i":251.1,"p":1.2372},{"k":"g","t":"A","i":279.4,"p":1.2442},{"k":"g","t":"B","i":287.3,"p":1.2530},
      {"k":"g","t":"C","i":298.3,"p":1.2409},
      {"k":"blue","t":"b","i":102.0,"p":1.2266}
    ],
    "waves": [
      {"k":"pu","t":"b","i":1.9,"p":1.2523},{"k":"pu","t":"c","i":28.1,"p":1.2725},{"k":"pu","t":"ii","i":31.3,"p":1.2717},
      {"k":"pu","t":"i","i":29.1,"p":1.2616},{"k":"pu","t":"iii","i":56.1,"p":1.2436},{"k":"pu","t":"iv","i":95.8,"p":1.2535},
      {"k":"pu","t":"iii","i":111.9,"p":1.2566},{"k":"pu","t":"i","i":104.1,"p":1.2406},{"k":"pu","t":"v","i":102.0,"p":1.2328},
      {"k":"pu","t":"ii","i":107.1,"p":1.2332},{"k":"pu","t":"iv","i":125.1,"p":1.2454},{"k":"pu","t":"v","i":151.2,"p":1.2600},
      {"k":"pu","t":"a","i":180.0,"p":1.2388},{"k":"pu","t":"b","i":219.4,"p":1.2600},{"k":"pu","t":"c","i":251.3,"p":1.2332},
      {"k":"pu","t":"i","i":272.8,"p":1.2546},{"k":"pu","t":"ii","i":298.3,"p":1.2374},
      {"k":"or","t":"(b)","i":28.0,"p":1.2761},{"k":"or","t":"(i)","i":151.2,"p":1.2632},{"k":"or","t":"(c)","i":102.0,"p":1.2297},
      {"k":"or","t":"(ii)","i":251.3,"p":1.2297},{"k":"or","t":"(iii)","i":322.1,"p":1.2652}
    ],
    "boxes": [
      {"f":"g","t":"161.8%(1.27641)","i":325.0,"i2":342.0,"p":1.27641},
      {"f":"w","t":"138.2%(1.27086)","i":325.0,"i2":342.0,"p":1.27086},
      {"f":"w","t":"127.2%(1.26827)","i":325.0,"i2":342.0,"p":1.26827},
      {"f":"b","t":"100.0%(1.26187)","i":325.0,"i2":342.0,"p":1.26187},
      {"f":"w","t":"38.2%(1.24703)","i":304.1,"i2":319.7,"p":1.24703},
      {"f":"b","t":"50.0%(1.24537)","i":304.1,"i2":319.7,"p":1.24537},
      {"f":"g","t":"61.8%(1.24371)","i":304.1,"i2":319.7,"p":1.24371},
      {"f":"w","t":"78.6%(1.24135)","i":304.1,"i2":319.7,"p":1.24135},
      {"f":"w","t":"100.0%(1.23834)","i":302.8,"i2":319.7,"p":1.23834},
      {"f":"m","t":"0.02353","i":146.6,"i2":155.4,"p":1.2465},
      {"f":"m","t":"0.01406","i":268.4,"i2":277.2,"p":1.2454}
    ],
    "tags": [
      {"f":"t1","t":"1.25125","i":344.1,"i2":354.5,"p":1.25125},
      {"f":"t2","t":"1.25004","i":344.1,"i2":354.5,"p":1.25004},
      {"f":"t4","t":"1.24778","i":344.1,"i2":354.5,"p":1.2476},
      {"f":"t3","t":"1.24866","i":344.1,"i2":354.5,"p":1.24866}
    ],
    "notes": [
      {"k":"ms","t":"1.25821","i":152.3,"p":1.2575},
      {"k":"ms","t":"1.23468","i":152.1,"p":1.2354},
      {"k":"ms","t":"1.25240","i":274.1,"p":1.2518},
      {"k":"ms","t":"1.23834","i":274.4,"p":1.2390},
      {"k":"vs","t":"2 vs 1","i":316.3,"p":1.2484},
      {"k":"vs","t":"3 vs 1","i":338.4,"p":1.2605},
      {"k":"h1","t":"GBP/USD - 1 hour","i":1.07,"p":1.2776},
      {"k":"h2","t":"Wave Analysis","i":1.5,"p":1.2762},
      {"k":"mw","t":"MotiveWave","i":8.4,"p":1.2255},
      {"k":"ic","t":"⇔⇨⇦","i":0.2,"p":1.2255},
      {"k":"ic","t":"⇨⇩⇧","i":333.6,"p":1.2777},
      {"k":"ic","t":"⇧⇩","i":336.8,"p":1.2254}
    ],
    "oscnotes": [
      {"k":"b","t":"Awesome Osc(34,5)","i":0.86,"ao":0.0062},
      {"k":"ic","t":"⇧✕","i":336.8,"ao":0.0067}
    ],
    "osctag": [
      {"t":"0.00186","i":344.1,"i2":354.5,"ao":0.0030}
    ],
    "zero": [
      {"ao": 0}
    ]
  },
  "vconcat": [
    {
      "width": 1606,
      "height": 650,
      "encoding": {
        "x": {
          "field": "i", "type": "quantitative",
          "scale": {"domain": [-0.643, 343.5], "nice": false, "zero": false},
          "axis": {
            "title": null,
            "values": [6,18,30,42,54,65,81,93,105,117,129,141,153,165,177,188,201,213,225,237,249,261,273,285,297,308,323,335],
            "labelExpr": "['12:00','Feb-02','12:00','Feb-03','12:00','Feb-05','12:00','Feb-07','12:00','Feb-08','12:00','Feb-09','12:00','Feb-10','12:00','Feb-12','12:00','Feb-14','12:00','Feb-15','12:00','Feb-16','12:00','Feb-17','12:00','Feb-19','12:00','Feb-21'][indexof([6,18,30,42,54,65,81,93,105,117,129,141,153,165,177,188,201,213,225,237,249,261,273,285,297,308,323,335], datum.value)]",
            "tickSize": 5, "labelPadding": 2, "labelFontSize": 12, "labelColor": "#222",
            "labelFlush": false, "labelOverlap": false, "grid": false,
            "domainColor": "#333", "tickColor": "#333"
          }
        },
        "y": {
          "field": "p", "type": "quantitative",
          "scale": {"domain": [1.22479, 1.27848], "nice": false, "zero": false},
          "axis": {
            "title": null, "orient": "right", "tickCount": 108,
            "labelExpr": "abs(datum.value*200 - round(datum.value*200)) < 0.01 && datum.value > 1.2255 && abs(datum.value - 1.25) > 0.0001 ? format(datum.value, '.5f') : ''",
            "tickSize": {"condition": {"test": "abs(datum.value*200 - round(datum.value*200)) < 0.01", "value": 6}, "value": 3},
            "labelPadding": 3, "labelFontSize": 12, "labelColor": "#333",
            "labelFlush": false, "labelOverlap": false, "grid": false,
            "domainColor": "#444", "tickColor": "#555"
          }
        }
      },
      "layer": [
        {"data": {"name": "lines"}, "transform": [{"filter": "datum.s == 'pink'"}],
         "mark": {"type": "line", "color": "#cc8fd0", "strokeWidth": 1.2, "strokeDash": [6, 4], "interpolate": "monotone"}, "encoding": {}},
        {"data": {"name": "lines"}, "transform": [{"filter": "datum.s == 'lblue'"}],
         "mark": {"type": "line", "color": "#93b4ff", "strokeWidth": 1.2, "strokeDash": [6, 4], "interpolate": "monotone"}, "encoding": {}},
        {"data": {"name": "lines"}, "transform": [{"filter": "datum.s == 'k1' || datum.s == 'k2' || datum.s == 'k3'"}],
         "mark": {"type": "line", "color": "#c9c08a", "strokeWidth": 1.2, "strokeDash": [8, 4]},
         "encoding": {"detail": {"field": "s"}}},
        {"data": {"name": "lines"}, "transform": [{"filter": "datum.s == 'orange'"}],
         "mark": {"type": "line", "color": "#ffb36b", "strokeWidth": 1}, "encoding": {}},
        {"data": {"name": "rules"},
         "mark": {"type": "rule", "strokeWidth": 1.2},
         "encoding": {"x2": {"field": "i2"}, "y2": {"field": "p2"},
           "color": {"condition": {"test": "datum.g == 'fib'", "value": "#111111"}, "value": "#6e6e6e"}}},
        {"data": {"name": "candles"},
         "mark": {"type": "rule", "color": "#111", "strokeWidth": 1},
         "encoding": {"y": {"field": "l", "type": "quantitative", "axis": {"title": null}}, "y2": {"field": "h"}}},
        {"data": {"name": "candles"},
         "mark": {"type": "bar", "size": 3, "stroke": "#222", "strokeWidth": 0.7},
         "encoding": {"y": {"field": "o", "type": "quantitative", "axis": {"title": null}}, "y2": {"field": "c"},
           "fill": {"condition": {"test": "datum.c >= datum.o", "value": "#d2d2d2"}, "value": "#111111"}}},
        {"data": {"name": "lines"}, "transform": [{"filter": "datum.s == 'red'"}],
         "mark": {"type": "line", "color": "#ff0000", "strokeWidth": 3}, "encoding": {}},
        {"data": {"name": "lines"}, "transform": [{"filter": "datum.s == 'blue'"}],
         "mark": {"type": "line", "color": "#0000ff", "strokeWidth": 3}, "encoding": {}},
        {"data": {"name": "marks"}, "transform": [{"filter": "datum.d == 'down'"}],
         "mark": {"type": "point", "shape": "M-1,-0.55L1,-0.55L0,0.55Z", "size": 144, "filled": true, "color": "#870000", "stroke": "#2a0000", "strokeWidth": 0.6, "opacity": 1}},
        {"data": {"name": "marks"}, "transform": [{"filter": "datum.d == 'up'"}],
         "mark": {"type": "point", "shape": "M-1,0.55L1,0.55L0,-0.55Z", "size": 144, "filled": true, "color": "#0b8a0b", "stroke": "#003300", "strokeWidth": 0.6, "opacity": 1}},
        {"data": {"name": "arrows"}, "transform": [{"filter": "datum.d == 'down'"}],
         "mark": {"type": "point", "shape": "M-0.35,-1L0.35,-1L0,1Z", "size": 100, "filled": true, "opacity": 1},
         "encoding": {"color": {"condition": {"test": "datum.g == 'fib'", "value": "#111111"}, "value": "#555555"}}},
        {"data": {"name": "arrows"}, "transform": [{"filter": "datum.d == 'up'"}],
         "mark": {"type": "point", "shape": "M-0.35,1L0.35,1L0,-1Z", "size": 100, "filled": true, "opacity": 1},
         "encoding": {"color": {"condition": {"test": "datum.g == 'fib'", "value": "#111111"}, "value": "#555555"}}},
        {"data": {"name": "circles"},
         "mark": {"type": "point", "shape": "circle", "size": 1190, "filled": false, "strokeWidth": 1.3, "opacity": 1},
         "encoding": {"stroke": {"condition": {"test": "datum.k == 'blue'", "value": "#1f1fff"}, "value": "#b3b3b3"}}},
        {"data": {"name": "circles"},
         "mark": {"type": "text", "fontSize": 25, "baseline": "middle", "align": "center", "dy": 1},
         "encoding": {"text": {"field": "t"},
           "color": {"condition": {"test": "datum.k == 'blue'", "value": "#0000dd"}, "value": "#7b7b7b"}}},
        {"data": {"name": "waves"}, "transform": [{"filter": "datum.k == 'pu'"}],
         "mark": {"type": "text", "fontSize": 30, "color": "#c89af7", "baseline": "middle", "align": "center"},
         "encoding": {"text": {"field": "t"}}},
        {"data": {"name": "waves"}, "transform": [{"filter": "datum.k == 'or'"}],
         "mark": {"type": "text", "fontSize": 26, "color": "#ff6600", "baseline": "middle", "align": "center"},
         "encoding": {"text": {"field": "t"}}},
        {"data": {"name": "boxes"},
         "mark": {"type": "bar", "size": 13, "cornerRadius": 3, "strokeWidth": 1},
         "encoding": {"x2": {"field": "i2"},
           "fill": {"condition": [{"test": "datum.f == 'g'", "value": "#c8f2c0"}, {"test": "datum.f == 'b'", "value": "#c3caf5"}], "value": "#ffffff"},
           "stroke": {"condition": {"test": "datum.f == 'm'", "value": "#9a9a9a"}, "value": "#555555"}}},
        {"data": {"name": "boxes"},
         "mark": {"type": "text", "align": "left", "baseline": "middle", "dx": 2, "fontSize": 10},
         "encoding": {"text": {"field": "t"},
           "color": {"condition": {"test": "datum.f == 'm'", "value": "#555555"}, "value": "#111111"}}},
        {"data": {"name": "notes"}, "transform": [{"filter": "datum.k == 'ms'"}],
         "mark": {"type": "text", "align": "left", "baseline": "middle", "fontSize": 9.5, "color": "#666"},
         "encoding": {"text": {"field": "t"}}},
        {"data": {"name": "notes"}, "transform": [{"filter": "datum.k == 'vs'"}],
         "mark": {"type": "text", "align": "center", "baseline": "middle", "fontSize": 11.5, "fontWeight": "bold", "color": "#111"},
         "encoding": {"text": {"field": "t"}}},
        {"data": {"name": "notes"}, "transform": [{"filter": "datum.k == 'h1'"}],
         "mark": {"type": "text", "align": "left", "baseline": "middle", "fontSize": 13, "fontWeight": "bold", "color": "#111"},
         "encoding": {"text": {"field": "t"}}},
        {"data": {"name": "notes"}, "transform": [{"filter": "datum.k == 'h2'"}],
         "mark": {"type": "text", "align": "left", "baseline": "middle", "fontSize": 11.5, "color": "#555"},
         "encoding": {"text": {"field": "t"}}},
        {"data": {"name": "notes"}, "transform": [{"filter": "datum.k == 'mw'"}],
         "mark": {"type": "text", "align": "left", "baseline": "middle", "fontSize": 12, "color": "#222"},
         "encoding": {"text": {"field": "t"}}},
        {"data": {"name": "notes"}, "transform": [{"filter": "datum.k == 'ic'"}],
         "mark": {"type": "text", "align": "left", "baseline": "middle", "fontSize": 13, "color": "#a0a0a0"},
         "encoding": {"text": {"field": "t"}}},
        {"data": {"name": "tags"},
         "mark": {"type": "bar", "size": 13, "cornerRadius": 2, "stroke": "#666", "strokeWidth": 1},
         "encoding": {"x2": {"field": "i2"},
           "fill": {"condition": [{"test": "datum.f == 't1'", "value": "#c0e2f2"}, {"test": "datum.f == 't2'", "value": "#b3b3ee"}, {"test": "datum.f == 't4'", "value": "#f2b6b6"}], "value": "#ffffff"}}},
        {"data": {"name": "tags"},
         "mark": {"type": "text", "align": "left", "baseline": "middle", "dx": 4, "fontSize": 12, "color": "#111"},
         "encoding": {"text": {"field": "t"}}}
      ]
    },
    {
      "width": 1606,
      "height": 76,
      "encoding": {
        "x": {"field": "i", "type": "quantitative", "scale": {"domain": [-0.643, 343.5], "nice": false, "zero": false}, "axis": null},
        "y": {"field": "ao", "type": "quantitative",
          "scale": {"domain": [-0.01029, 0.00902], "nice": false, "zero": false},
          "axis": {"title": null, "orient": "right",
            "values": [-0.0075, -0.005, -0.0025, 0, 0.0025, 0.005, 0.0075],
            "labelExpr": "abs(datum.value) < 1e-9 ? '0.00000' : (abs(datum.value + 0.005) < 1e-9 ? '-0.00500' : '')",
            "tickSize": 4, "labelPadding": 3, "labelFontSize": 11.5, "labelColor": "#333",
            "labelFlush": false, "labelOverlap": false, "grid": false,
            "domainColor": "#444", "tickColor": "#555"}}
      },
      "layer": [
        {"data": {"name": "zero"},
         "mark": {"type": "rule", "strokeDash": [3, 3], "color": "#222", "strokeWidth": 1},
         "encoding": {"x": null}},
        {"data": {"name": "candles"},
         "transform": [{"window": [{"op": "lag", "field": "ao", "as": "prev"}], "sort": [{"field": "i"}]}],
         "mark": {"type": "bar", "size": 3.4, "strokeWidth": 0.8},
         "encoding": {
           "fill": {"condition": {"test": "datum.prev != null && datum.ao > datum.prev", "value": "#2626ff"}, "value": "#a82828"},
           "stroke": {"condition": {"test": "datum.prev != null && datum.ao > datum.prev", "value": "#a9a9ff"}, "value": "#e6a6a6"}}},
        {"data": {"name": "oscnotes"}, "transform": [{"filter": "datum.k == 'b'"}],
         "mark": {"type": "text", "align": "left", "baseline": "middle", "fontSize": 12, "fontWeight": "bold", "color": "#111"},
         "encoding": {"text": {"field": "t"}}},
        {"data": {"name": "oscnotes"}, "transform": [{"filter": "datum.k == 'ic'"}],
         "mark": {"type": "text", "align": "left", "baseline": "middle", "fontSize": 13, "color": "#a0a0a0"},
         "encoding": {"text": {"field": "t"}}},
        {"data": {"name": "osctag"},
         "mark": {"type": "bar", "size": 12, "cornerRadius": 2, "fill": "#ffffff", "stroke": "#555", "strokeWidth": 1},
         "encoding": {"x2": {"field": "i2"}}},
        {"data": {"name": "osctag"},
         "mark": {"type": "text", "align": "left", "baseline": "middle", "dx": 4, "fontSize": 11, "color": "#111"},
         "encoding": {"text": {"field": "t"}}}
      ]
    }
  ]
}
